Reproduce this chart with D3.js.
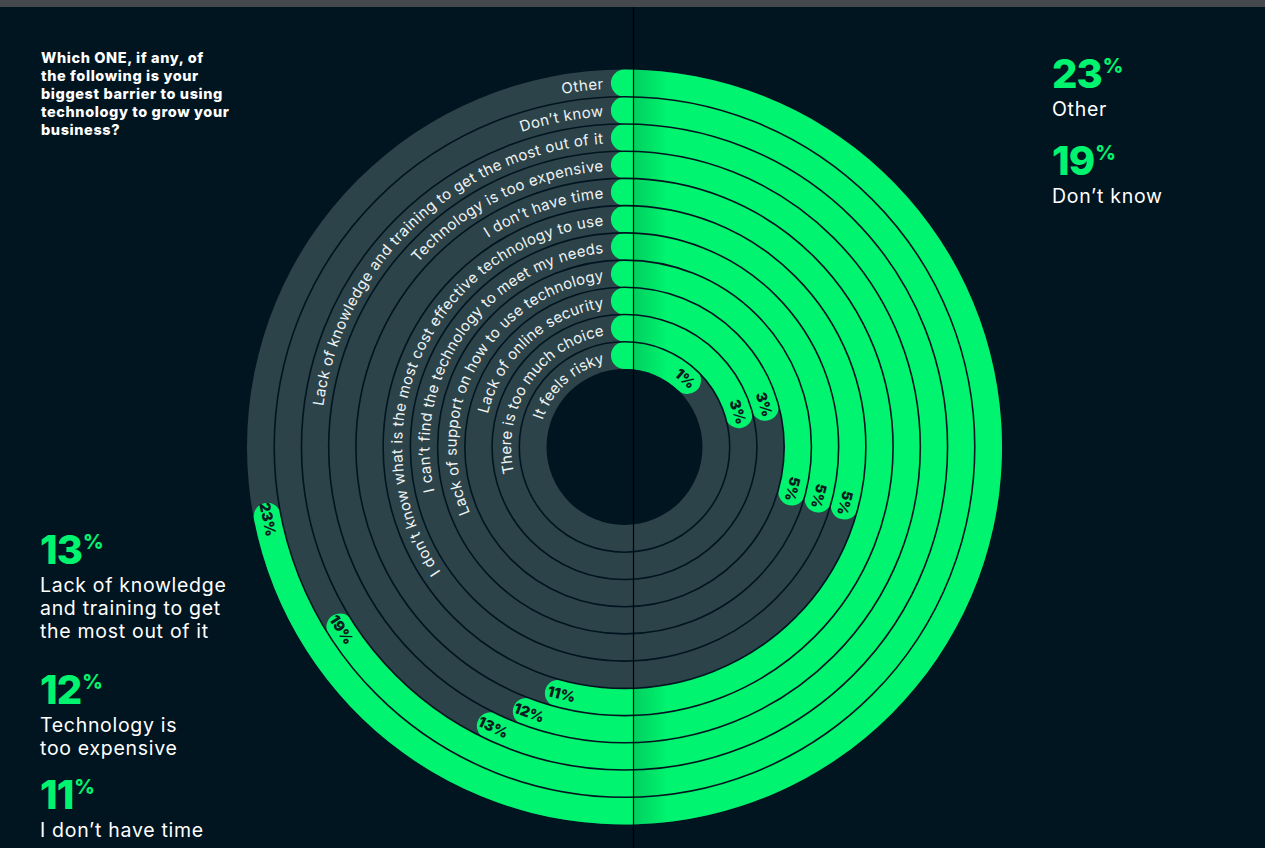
<!DOCTYPE html>
<html lang="en">

<head>
    <meta charset="UTF-8">
    <title>Biggest barrier to using technology</title>
    <script src="https://cdn.jsdelivr.net/npm/d3@7"></script>
    <style>
        body {
            margin: 0;
            background: #011520;
        }

        svg {
            display: block;
            font-family: Inter, "Noto Sans", sans-serif;
        }

        .ring-label {
            fill: #eef3f3;
            font-size: 15px;
            letter-spacing: 0.55px;
        }

        .pct {
            fill: #0b1c21;
            font-size: 14.5px;
            font-weight: 900;
        }
    </style>
</head>

<body>
    <svg id="chart" width="1265" height="848"></svg>
</body>
<script>
    // answers, outermost ring first
    const categories = [
        "Other",
        "Don’t know",
        "Lack of knowledge and training to get the most out of it",
        "Technology is too expensive",
        "I don’t have time",
        "I don’t know what is the most cost effective technology to use",
        "I can’t find the technology to meet my needs",
        "Lack of support on how to use technology",
        "Lack of online security",
        "There is too much choice",
        "It feels risky"
    ];
    const values = [23, 19, 13, 12, 11, 5, 5, 5, 3, 3, 1];

    const titleLines = [
        "Which ONE, if any, of",
        "the following is your",
        "biggest barrier to using",
        "technology to grow your",
        "business?"
    ];

    // side call-outs: category index + wrapped text
    const rightCallouts = [
        { idx: 0, lines: ["Other"] },
        { idx: 1, lines: ["Don’t know"] }
    ];
    const leftCallouts = [
        { idx: 2, lines: ["Lack of knowledge", "and training to get", "the most out of it"] },
        { idx: 3, lines: ["Technology is", "too expensive"] },
        { idx: 4, lines: ["I don’t have time"] }
    ];

    const width = 1265, height = 848;
    const cx = 624.5, cy = 447;
    const outerR = 377.5, innerR = 78;
    const lineX = 633.5;
    const green = "#00f46f", track = "#2d434a", bg = "#011520";
    const rad = d => d * Math.PI / 180;

    const svg = d3.select("#chart");

    svg.append("rect").attr("width", width).attr("height", height).attr("fill", bg);
    svg.append("rect").attr("width", width).attr("height", 7).attr("fill", "#45484c");

    // ring positions (outer -> inner)
    const ring = d3.scaleBand().domain(categories).range([outerR, innerR]).padding(0);
    const bw = ring.bandwidth();
    const mid = c => ring(c) + bw / 2;

    // the artwork uses a broken angular axis: small shares are stretched
    const angle = d3.scaleLinear()
        .domain([0, 5, 11, 23])
        .range([28, 105, 195, 259].map(rad));

    const defs = svg.append("defs");
    const shade = defs.append("linearGradient")
        .attr("id", "shade")
        .attr("gradientUnits", "userSpaceOnUse")
        .attr("x1", lineX - cx).attr("x2", lineX - cx + 34)
        .attr("y1", 0).attr("y2", 0);
    shade.append("stop").attr("offset", 0).attr("stop-color", "#000").attr("stop-opacity", 0.15);
    shade.append("stop").attr("offset", 1).attr("stop-color", "#000").attr("stop-opacity", 0);

    defs.append("clipPath").attr("id", "rightSide")
        .append("rect")
        .attr("x", lineX - cx).attr("y", -outerR)
        .attr("width", 40).attr("height", 2 * outerR);

    const g = svg.append("g").attr("transform", `translate(${cx},${cy})`);

    // grey track
    g.append("circle").attr("r", outerR).attr("fill", track);

    // label paths along each ring (left half, ending just before 12 o'clock)
    categories.forEach((c, i) => {
        const r = mid(c);
        const p = d3.path();
        p.arc(0, 0, r, Math.PI / 2, 3 * Math.PI / 2 - 21 / r, false);
        defs.append("path").attr("id", "lp" + i).attr("d", p.toString());
    });

    const arc = d3.arc()
        .innerRadius(d => ring(d.c))
        .outerRadius(d => ring(d.c) + bw)
        .startAngle(d => -(bw / 2) / mid(d.c))
        .endAngle(d => angle(d.v) + (bw / 2) / mid(d.c))
        .cornerRadius(bw / 2);

    const rows = categories.map((c, i) => ({ c, v: values[i], i }));

    g.selectAll("path.bar")
        .data(rows)
        .join("path")
        .attr("class", "bar")
        .attr("d", arc)
        .attr("fill", green);

    // darker band just right of the divider
    g.append("g")
        .attr("clip-path", "url(#rightSide)")
        .selectAll("path")
        .data(rows)
        .join("path")
        .attr("d", arc)
        .attr("fill", "url(#shade)");

    // ring separators
    g.selectAll("circle.sep")
        .data(categories.slice(0, -1))
        .join("circle")
        .attr("class", "sep")
        .attr("r", c => ring(c))
        .attr("fill", "none")
        .attr("stroke", bg)
        .attr("stroke-width", 1.6);

    g.append("circle").attr("r", innerR).attr("fill", bg);

    // category names on the rings
    g.selectAll("text.ring-label")
        .data(rows)
        .join("text")
        .attr("class", "ring-label")
        .attr("dy", "0.36em")
        .append("textPath")
        .attr("href", d => "#lp" + d.i)
        .attr("startOffset", "100%")
        .attr("text-anchor", "end")
        .text(d => d.c);

    // percent at the end of each bar
    g.selectAll("text.pct")
        .data(rows)
        .join("text")
        .attr("class", "pct")
        .attr("text-anchor", "middle")
        .attr("dy", "0.36em")
        .attr("transform", d => {
            const r = mid(d.c);
            const t = angle(d.v) - 3 / r;
            const deg = t * 180 / Math.PI;
            const rot = deg < 180 ? deg : deg - 180;
            return `translate(${r * Math.sin(t)},${-r * Math.cos(t)}) rotate(${rot})`;
        })
        .text(d => d.v + "%");

    // divider
    svg.append("line")
        .attr("x1", lineX).attr("x2", lineX)
        .attr("y1", 7).attr("y2", height)
        .attr("stroke", "#000").attr("stroke-width", 1.2);

    // title
    svg.append("text")
        .attr("x", 41).attr("y", 63)
        .attr("fill", "#fff")
        .attr("font-size", 14.5)
        .attr("font-weight", 800)
        .attr("letter-spacing", 0.6)
        .selectAll("tspan")
        .data(titleLines)
        .join("tspan")
        .attr("x", 41)
        .attr("dy", (d, i) => i ? 18 : 0)
        .text(d => d);

    function callout(x, y, c) {
        const t = svg.append("text").attr("x", x).attr("y", y).attr("fill", green)
            .attr("font-weight", 800);
        t.append("tspan").attr("font-size", 40).attr("letter-spacing", -1).text(values[c.idx]);
        t.append("tspan").attr("font-size", 20).attr("dy", -15).attr("dx", 1).text("%");
        svg.append("text")
            .attr("fill", "#fff")
            .attr("font-size", 19.5)
            .attr("letter-spacing", 0.7)
            .selectAll("tspan")
            .data(c.lines)
            .join("tspan")
            .attr("x", x)
            .attr("y", (d, i) => y + 28 + i * 23)
            .text(d => d);
    }

    const rightY = [88, 175];
    rightCallouts.forEach((c, i) => callout(1052, rightY[i], c));
    const leftY = [564, 704, 809];
    leftCallouts.forEach((c, i) => callout(40, leftY[i], c));
</script>

</html>
